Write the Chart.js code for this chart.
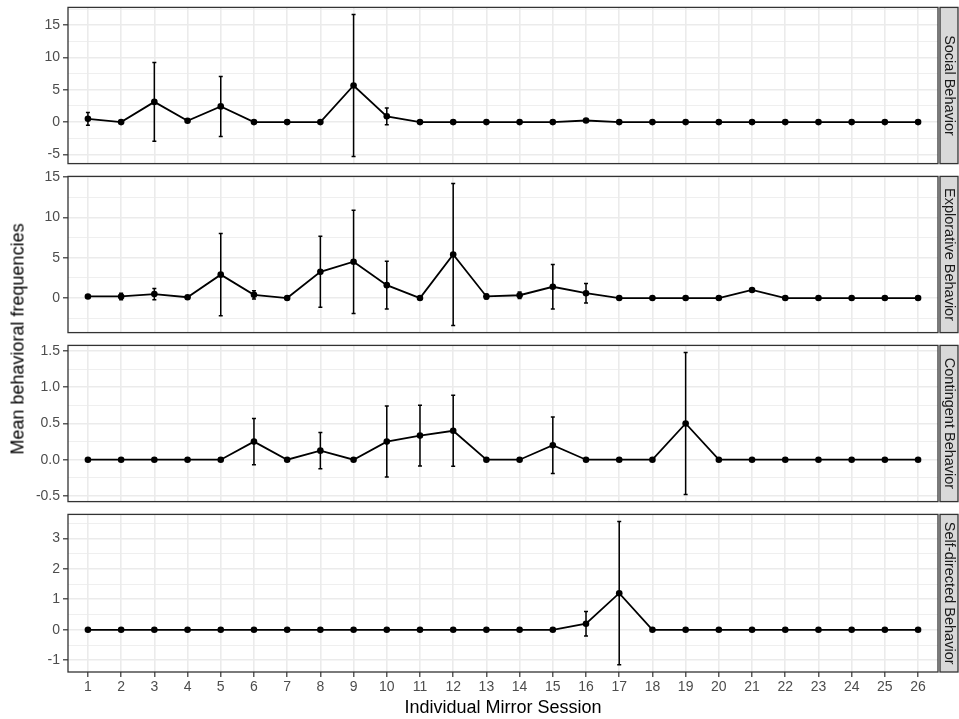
<!DOCTYPE html>
<html>
<head>
<meta charset="utf-8">
<script src="https://cdn.jsdelivr.net/npm/chart.js@4.4.0/dist/chart.umd.min.js"></script>
<style>
  body { margin: 0; background: #fff; }
  #wrap { position: relative; width: 959px; height: 719px; overflow: hidden; font-family: 'Liberation Sans', Arial, sans-serif; }
  canvas { position: absolute; left: 0; }
  #ytitle { position: absolute; left: 18px; top: 339px; transform: translate(-50%, -50%) rotate(-90deg); font-size: 18px; white-space: nowrap; color: #000; }
</style>
</head>
<body>
<div id="wrap">
  <canvas id="p1" width="959" height="179" style="top:-4px"></canvas>
  <canvas id="p2" width="959" height="179" style="top:165px"></canvas>
  <canvas id="p3" width="959" height="179" style="top:334px"></canvas>
  <canvas id="p4" width="959" height="216" style="top:503px"></canvas>
  <div id="ytitle">Mean behavioral frequencies</div>
</div>
<script>
const sessions = [1, 2, 3, 4, 5, 6, 7, 8, 9, 10, 11, 12, 13, 14, 15, 16, 17, 18, 19, 20, 21, 22, 23, 24, 25, 26]

const socialMean = [0.5, 0, 3.13, 0.2, 2.43, 0, 0, 0, 5.67, 0.9, 0, 0, 0, 0, 0, 0.25, 0, 0, 0, 0, 0, 0, 0, 0, 0, 0]
const socialErr  = [1.0, 0, 6.1, 0, 4.65, 0, 0, 0, 11.0, 1.3, 0, 0, 0, 0, 0, 0, 0, 0, 0, 0, 0, 0, 0, 0, 0, 0]

const explMean = [0.2, 0.2, 0.5, 0.1, 2.9, 0.4, 0, 3.25, 4.5, 1.6, 0, 5.4, 0.2, 0.35, 1.4, 0.6, 0, 0, 0, 0, 1.0, 0, 0, 0, 0, 0]
const explErr  = [0.1, 0.4, 0.7, 0, 5.1, 0.5, 0, 4.4, 6.4, 2.95, 0, 8.8, 0.3, 0.4, 2.75, 1.2, 0, 0, 0, 0, 0, 0, 0, 0, 0, 0]

const contMean = [0, 0, 0, 0, 0, 0.25, 0, 0.125, 0, 0.25, 0.333, 0.4, 0, 0, 0.2, 0, 0, 0, 0.5, 0, 0, 0, 0, 0, 0, 0]
const contErr  = [0, 0, 0, 0, 0, 0.32, 0, 0.25, 0, 0.49, 0.42, 0.49, 0, 0, 0.39, 0, 0, 0, 0.98, 0, 0, 0, 0, 0, 0, 0]

const selfMean = [0, 0, 0, 0, 0, 0, 0, 0, 0, 0, 0, 0, 0, 0, 0, 0.2, 1.2, 0, 0, 0, 0, 0, 0, 0, 0, 0]
const selfErr  = [0, 0, 0, 0, 0, 0, 0, 0, 0, 0, 0, 0, 0, 0, 0, 0.4, 2.35, 0, 0, 0, 0, 0, 0, 0, 0, 0]

const socialTicks = [-5, 0, 5, 10, 15]
const socialLabels = ['-5', '0', '5', '10', '15']
const socialMinor = [-2.5, 2.5, 7.5, 12.5, 17.5]

const explTicks = [0, 5, 10, 15]
const explLabels = ['0', '5', '10', '15']
const explMinor = [-2.5, 2.5, 7.5, 12.5]

const contTicks = [-0.5, 0, 0.5, 1, 1.5]
const contLabels = ['-0.5', '0.0', '0.5', '1.0', '1.5']
const contMinor = [-0.25, 0.25, 0.75, 1.25]

const selfTicks = [-1, 0, 1, 2, 3]
const selfLabels = ['-1', '0', '1', '2', '3']
const selfMinor = [-0.5, 0.5, 1.5, 2.5, 3.5]

Chart.defaults.font.family = "'Liberation Sans', Arial, sans-serif"

const gridGrey = '#EBEBEB'

// ggplot style range: data +- error, expanded by 5%
const yRange = (mean, err) => {
    const lo = Math.min(...mean.map((m, i) => m - err[i]))
    const hi = Math.max(...mean.map((m, i) => m + err[i]))
    const pad = (hi - lo) * 0.05
    return [lo - pad, hi + pad]
}

const errorBars = {
    id: 'errorBars',
    beforeDatasetsDraw(chart) {
        const { ctx, scales: { x, y } } = chart
        const ds = chart.data.datasets[0]
        ctx.save()
        ctx.strokeStyle = '#000'
        ctx.lineWidth = 1.5
        ds.errors.forEach((e, i) => {
            if (!e) return
            const px = x.getPixelForValue(sessions[i])
            const top = y.getPixelForValue(ds.data[i] + e)
            const bot = y.getPixelForValue(ds.data[i] - e)
            ctx.beginPath()
            ctx.moveTo(px, top); ctx.lineTo(px, bot)
            ctx.moveTo(px - 2, top); ctx.lineTo(px + 2, top)
            ctx.moveTo(px - 2, bot); ctx.lineTo(px + 2, bot)
            ctx.stroke()
        })
        ctx.restore()
    }
}

const strip = {
    id: 'strip',
    afterDraw(chart, args, opts) {
        const { ctx, chartArea: a } = chart
        ctx.save()
        ctx.strokeStyle = '#333333'
        ctx.lineWidth = 1.3
        ctx.strokeRect(a.left, a.top, a.right - a.left, a.bottom - a.top)
        const sx = a.right + 2
        const sw = chart.width - sx - 1
        ctx.fillStyle = '#D9D9D9'
        ctx.fillRect(sx, a.top, sw, a.bottom - a.top)
        ctx.strokeRect(sx, a.top, sw, a.bottom - a.top)
        ctx.translate(sx + sw / 2, (a.top + a.bottom) / 2)
        ctx.rotate(Math.PI / 2)
        ctx.fillStyle = '#1A1A1A'
        ctx.font = "14.5px 'Liberation Sans', Arial, sans-serif"
        ctx.textAlign = 'center'
        ctx.textBaseline = 'middle'
        ctx.fillText(opts.text, 0, 0)
        ctx.restore()
    }
}

const criarPainel = (id, name, mean, err, majors, labels, minors, isBottom) => {
    const [ymin, ymax] = yRange(mean, err)
    const yTicks = majors.concat(minors).sort((a, b) => a - b)

    new Chart(document.getElementById(id), {
        type: 'line',
        data: {
            labels: sessions,
            datasets: [{
                data: mean,
                errors: err,
                borderColor: '#000',
                borderWidth: 1.8,
                pointRadius: 3.3,
                pointBackgroundColor: '#000',
                pointBorderWidth: 0,
                tension: 0
            }]
        },
        options: {
            responsive: false,
            animation: false,
            layout: { padding: { top: 10, bottom: isBottom ? 0 : 10, left: 0, right: 21 } },
            plugins: {
                legend: { display: false },
                tooltip: { enabled: false },
                strip: { text: name }
            },
            scales: {
                x: {
                    type: 'linear',
                    min: 0.4,
                    max: 26.6,
                    afterBuildTicks: s => { s.ticks = sessions.map(v => ({ value: v })) },
                    afterFit: s => { s.height = isBottom ? 47 : 0 },
                    grid: { color: gridGrey, lineWidth: 1.6, drawTicks: isBottom, tickLength: 5, tickColor: '#333333', tickWidth: 1.2 },
                    border: { display: false },
                    ticks: { display: isBottom, autoSkip: false, maxRotation: 0, padding: 2, color: '#4D4D4D', font: { size: 14 }, callback: v => String(v) },
                    title: { display: isBottom, text: 'Individual Mirror Session', color: '#000', font: { size: 18 }, padding: 0 }
                },
                y: {
                    min: ymin,
                    max: ymax,
                    afterBuildTicks: s => { s.ticks = yTicks.map(v => ({ value: v })) },
                    afterFit: s => { s.width = 68 },
                    grid: {
                        color: gridGrey,
                        lineWidth: c => majors.includes(c.tick && c.tick.value) ? 1.6 : 0.8,
                        drawTicks: true,
                        tickLength: 5,
                        tickColor: c => majors.includes(c.tick && c.tick.value) ? '#333333' : 'rgba(0,0,0,0)',
                        tickWidth: 1.2
                    },
                    border: { display: false },
                    ticks: {
                        autoSkip: false,
                        padding: 3,
                        color: '#4D4D4D',
                        font: { size: 14 },
                        callback: v => {
                            const k = majors.indexOf(v)
                            return k < 0 ? '' : labels[k]
                        }
                    }
                }
            }
        },
        plugins: [errorBars, strip]
    })
}

criarPainel('p1', 'Social Behavior', socialMean, socialErr, socialTicks, socialLabels, socialMinor, false)
criarPainel('p2', 'Explorative Behavior', explMean, explErr, explTicks, explLabels, explMinor, false)
criarPainel('p3', 'Contingent Behavior', contMean, contErr, contTicks, contLabels, contMinor, false)
criarPainel('p4', 'Self-directed Behavior', selfMean, selfErr, selfTicks, selfLabels, selfMinor, true)
</script>
</body>
</html>
